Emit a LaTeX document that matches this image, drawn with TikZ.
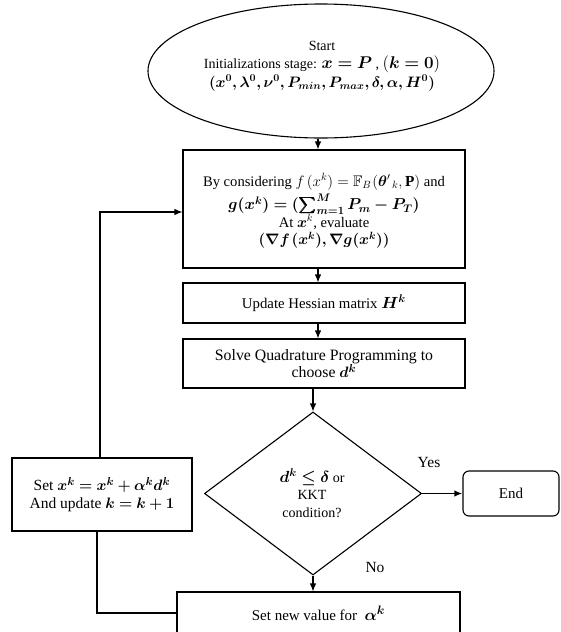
\documentclass[tikz,border=0pt]{standalone}
\usepackage{amsmath,amssymb,bm}
\usepackage{fontspec}
\setmainfont{Liberation Serif}
\usetikzlibrary{shapes.geometric,arrows.meta}
\newcommand{\mm}[2][1.12]{\scalebox{#1}{$#2$}}
\begin{document}
\begin{tikzpicture}[x=1pt,y=-1pt,
  every node/.style={font=\fontsize{14}{18}\selectfont, align=center, inner sep=0pt},
  stepbox/.style={draw, line width=1.1pt, rectangle},
  conn/.style={line width=1.1pt},
  arr/.style={conn, -{Latex[length=8pt,width=6.5pt]}}]
\useasboundingbox (0,0) rectangle (560,632);
\fill[white] (0,0) rectangle (560,632);
\node[draw, line width=1.1pt, ellipse, minimum width=346pt, minimum height=134pt] (start) at (321,71) {};
\node[font=\fontsize{14}{18.5}\selectfont] (starttxt) at (322,66)
  {Start\\ Initializations stage: \mm[1.18]{\bm{x=P}} , \mm[1.18]{(\bm{k=0})}\\
   \mm[1.05]{\bm{(x^0,\lambda^0,\nu^0,P_{min},P_{max},\delta,\alpha,H^0)}}};
\node[stepbox, minimum width=282pt, minimum height=118pt] (b1) at (324,209) {};
\node[font=\fontsize{14.6}{17.5}\selectfont] (b1txt) at (324,211)
  {By considering \mm[1.05]{f\mkern3mu(x^k)=\mathbb{F}_B\mkern1mu(\bm{\theta}'\mkern2mu{}_k,\mathbf{P})} and\\[3pt]
   \mm[1.1]{\bm{g(x^k)=(\textstyle\sum\nolimits_{m=1}^{M}P_m-P_T)}}\\
   At \mm[1.05]{\bm{x}^k}, evaluate\\
   \mm[1.05]{\bm{(\nabla f\mkern2mu(x^k),\nabla g(x^k))}}};
\node[stepbox, minimum width=282pt, minimum height=40pt, font=\fontsize{14.8}{18}\selectfont] (b2) at (324,303)
  {Update Hessian matrix \mm{\bm{H^k}}};
\node[stepbox, minimum width=282pt, minimum height=49pt,
      font=\fontsize{15.8}{17.5}\selectfont] (b3) at (324,363.5)
  {Solve Quadrature Programming to\\ choose \mm[1.05]{\bm{d^k}}};
\node[draw, line width=1.1pt, diamond, minimum width=217pt, minimum height=163pt] (dec) at (313,493.5) {};
\node[font=\fontsize{14}{17.5}\selectfont] (dectxt) at (312,493)
  {\mm{\bm{d^k\leq\delta}} or\\ KKT\\ condition?};
\node[stepbox, minimum width=180pt, minimum height=73pt,
      font=\fontsize{15.5}{17.5}\selectfont] (upd) at (102,494.5)
  {Set \mm[1.05]{\bm{x^k=x^k+\alpha^k d^k}}\\ And update \mm[1.05]{\bm{k=k+1}}};
\node[draw, line width=1.1pt, rounded corners=6pt, minimum width=96pt, minimum height=45pt,
      font=\fontsize{15}{18}\selectfont] (fin) at (511,493.5) {End};
\node[stepbox, minimum width=283pt, minimum height=42pt,
      font=\fontsize{15}{18}\selectfont] (nv) at (318.5,613)
  {Set new value for\ \ \mm{\bm{\alpha^k}}};
\node[font=\fontsize{15.5}{18}\selectfont] (yes) at (429,462) {Yes};
\node[font=\fontsize{15.5}{18}\selectfont] (no) at (375,567) {No};
\coordinate (col) at (318,0);
\coordinate (c1) at (100,212);
\coordinate (c2) at (97,613);
\draw[arr] (start.south -| col) -- (b1.north -| col);
\draw[arr] (b1.south -| col) -- (b2.north -| col);
\draw[arr] (b2.south -| col) -- (b3.north -| col);
\draw[arr] (b3.south -| dec.north) -- (dec.north);
\draw[arr, line width=1.8pt] (dec.east) -- (fin.west);
\draw[arr] (dec.south) -- (dec.south |- nv.north);
\draw[conn] (nv.west) -- (c2) -- (c2 |- upd.south);
\draw[arr] (upd.north -| c1) |- (b1.west |- c1);
\end{tikzpicture}
\end{document}
